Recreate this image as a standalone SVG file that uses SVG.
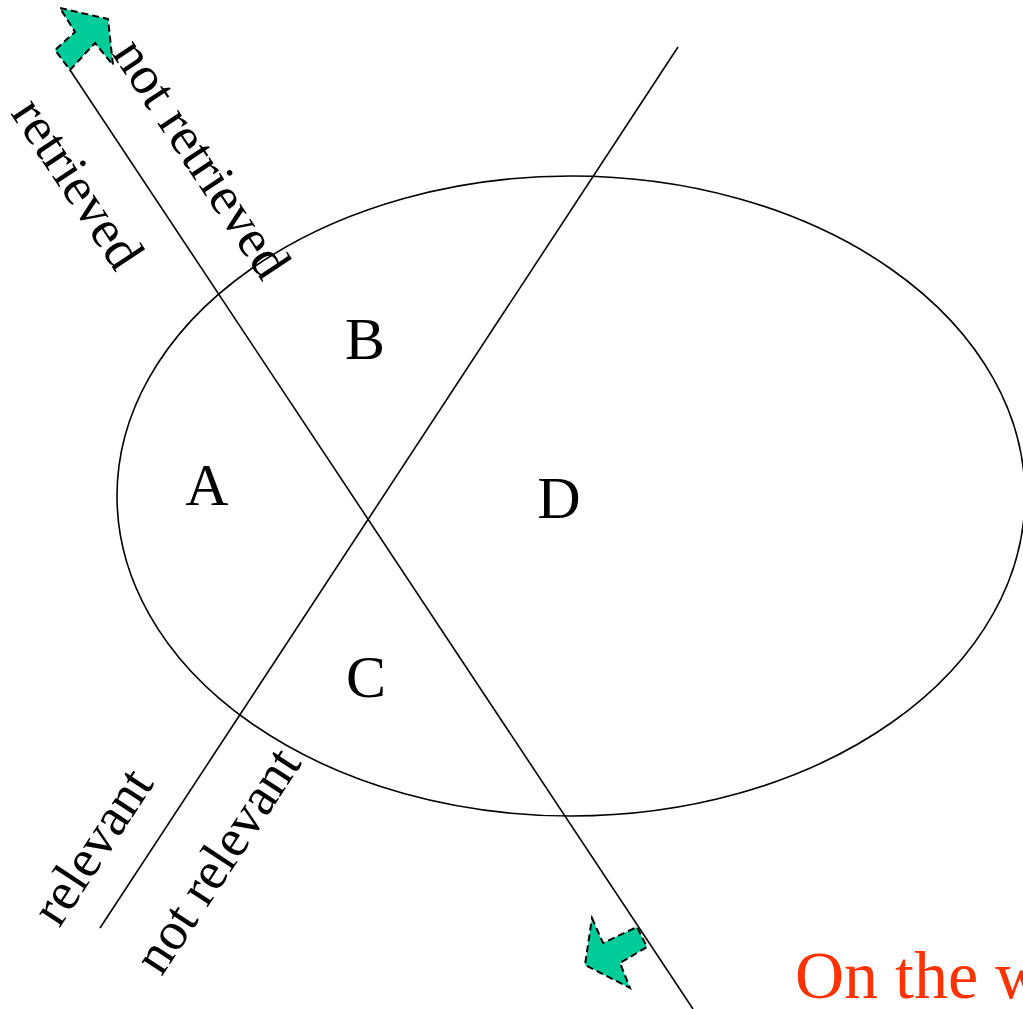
<svg xmlns="http://www.w3.org/2000/svg" width="1023" height="1009" viewBox="0 0 1023 1009">
<style>
.ln{stroke:#000;stroke-width:1.6;fill:none}
.lbl{font-family:"Liberation Serif",serif;font-size:60px;fill:#000;text-anchor:middle}
.rot{font-family:"Liberation Serif",serif;font-size:54px;fill:#000;text-anchor:middle}
.arr{fill:#00CC99;stroke:#000;stroke-width:2;stroke-dasharray:7 4}
</style>
<rect width="1023" height="1009" fill="#fff"/>
<g id="connectors">
<ellipse class="ln" cx="571" cy="496" rx="454" ry="320"/>
<line class="ln" x1="70" y1="70" x2="693" y2="1009"/>
<line class="ln" x1="100" y1="928" x2="678" y2="47"/>
</g>
<g id="arrow-top"><polygon class="arr" points="60,8 108,19 113,65 95,43 70,70 55,50 75,32"/></g>
<g id="arrow-bottom"><polygon class="arr" points="592,918 603,943 637,927 647,947 620,963 630,988 585,965"/></g>
<g id="A"><text class="lbl" x="207" y="505">A</text></g>
<g id="B"><text class="lbl" x="365" y="359">B</text></g>
<g id="C"><text class="lbl" x="366" y="697">C</text></g>
<g id="D"><text class="lbl" x="559" y="518">D</text></g>
<g id="not-retrieved"><text class="rot" transform="translate(187,168) rotate(56.5)">not retrieved</text></g>
<g id="retrieved"><text class="rot" transform="translate(63,193) rotate(56.5)">retrieved</text></g>
<g id="relevant"><text class="rot" transform="translate(107,856) rotate(-56.7)">relevant</text></g>
<g id="not-relevant"><text class="rot" transform="translate(232,870) rotate(-56.7)">not relevant</text></g>
<g id="caption"><text x="795" y="998" style="font-family:'Liberation Serif',serif;font-size:68px;fill:#FF3300">On the w</text></g>
</svg>
